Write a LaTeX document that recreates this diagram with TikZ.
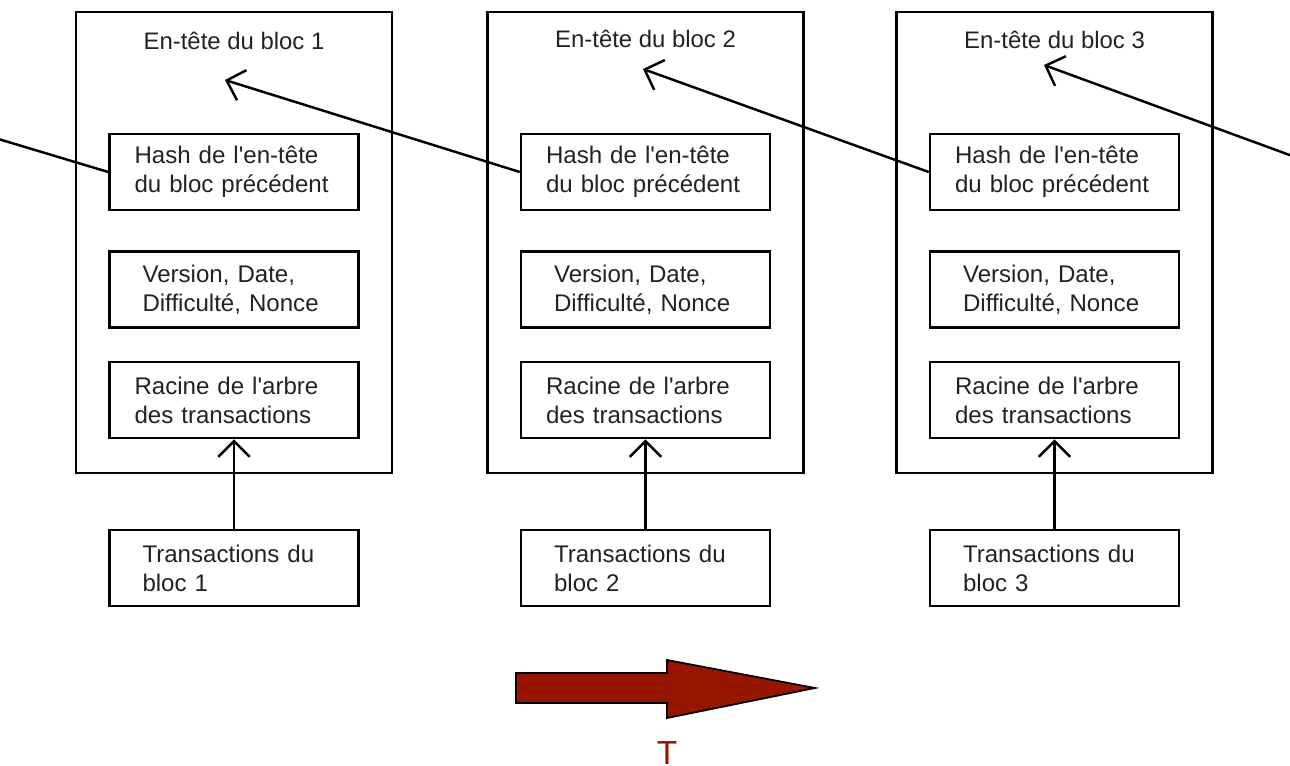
\documentclass[tikz,border=0pt]{standalone}
\usepackage{fontspec}
\setmainfont{Liberation Sans}[Ligatures=TeXOff]
\usetikzlibrary{arrows.meta}
\definecolor{rougefleche}{RGB}{150,22,0}
\definecolor{texte}{RGB}{34,34,34}

\tikzset{
  bloc/.style={draw, line width=1.5pt, minimum width=6.32cm, minimum height=9.22cm},
  champ/.style={draw, line width=1.5pt, minimum width=4.98cm, minimum height=1.52cm,
    inner xsep=0pt, align=left, text=texte, font=\fontsize{13.7pt}{16.4pt}\selectfont},
  champlarge/.style={champ, text width=3.98cm},
  champetroit/.style={champ, text width=3.66cm},
  titre/.style={anchor=base, text=texte, font=\fontsize{13.6pt}{16pt}\selectfont},
  lien/.style={line width=1.4pt, -{Straight Barb[length=9pt, width=18pt]}},
}

\begin{document}
\begin{tikzpicture}[x=0.02cm, y=-0.02cm]
    \clip (0,0) rectangle (1290,766);

    % les trois blocs
    \foreach \i/\bx/\ty in {1/234/50, 2/645.5/48, 3/1054.5/49} {
        \node[bloc] (bloc\i) at (\bx,242.5) {};
        \node[titre] (titre\i) at (\bx,\ty) {En-tête du bloc \i};
        \node[champlarge] (hash\i) at (\bx,172) {Hash de l'en-tête\\du bloc précédent};
        \node[champetroit] (version\i) at (\bx,289.5) {Version, Date,\\Difficulté, Nonce};
        \node[champlarge] (racine\i) at (\bx,400) {Racine de l'arbre\\des transactions};
        \node[champetroit] (trans\i) at (\bx,568) {Transactions du\\bloc \i};
        \draw[lien] (trans\i.north) -- (racine\i.south);
    }

    % pointes des liens vers l'en-tete precedent
    \coordinate (pointe1) at (225,80);
    \coordinate (pointe2) at (643,69);
    \coordinate (pointe3) at (1044,65);
    \coordinate (gauche) at (-5,138);
    \coordinate (droite) at (1295,157);

    \draw[line width=1.4pt] (hash1.west) -- (gauche);
    \draw[lien] (hash2.west) -- (pointe1);
    \draw[lien] (hash3.west) -- (pointe2);
    \draw[lien] (droite) -- (pointe3);

    % fleche du temps
    \draw[line width=1pt, fill=rougefleche]
        (516,673) -- (667,673) -- (667,660) -- (815,688) -- (667,718) -- (667,703) -- (516,703) -- cycle;
    \node[anchor=base, text=rougefleche, font=\fontsize{19pt}{19pt}\selectfont] (temps) at (667,764) {T};
\end{tikzpicture}
\end{document}
